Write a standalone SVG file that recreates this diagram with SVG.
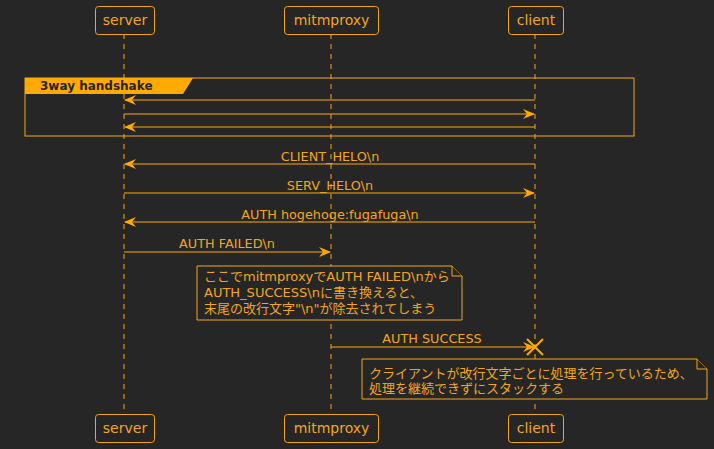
<svg xmlns="http://www.w3.org/2000/svg" width="714" height="449" viewBox="0 0 714 449">
<style>
text{font-family:"DejaVu Sans","Noto Sans CJK JP",sans-serif;fill:#F2A71B;}
.p{font-size:14px;text-anchor:middle;}
.m{font-size:12.8px;text-anchor:middle;}
.n{font-size:13px;}
.box{fill:#262626;stroke:#F2A71B;stroke-width:1;}
.life{stroke:#F2A71B;stroke-width:1;stroke-dasharray:5,5;}
.msg{stroke:#FFAA00;stroke-width:1;fill:none;}
</style>
<defs>
<marker id="ah" viewBox="0 0 12 10" refX="11" refY="5" markerWidth="12" markerHeight="10" markerUnits="userSpaceOnUse" orient="auto">
<path d="M0,0 L12,5 L0,10 L4,5 Z" fill="#FFAA00"/>
</marker>
</defs>
<rect width="714" height="449" fill="#262626"/>
<g id="lifelines">
<line class="life" x1="124" y1="34" x2="124" y2="415"/>
<line class="life" x1="331" y1="34" x2="331" y2="415"/>
<line class="life" x1="535" y1="34" x2="535" y2="415"/>
</g>
<g id="group-3way">
<rect x="25" y="78" width="609" height="58" fill="none" stroke="#F2A71B"/>
<path d="M25,78 L193,78 L183,94 L25,94 Z" fill="#FFAA00"/>
<text x="40" y="90" style="font-size:12px;font-weight:bold;fill:#262626">3way handshake</text>
</g>
<g id="connectors">
<line class="msg" x1="535" y1="100" x2="125" y2="100" marker-end="url(#ah)"/>
<line class="msg" x1="124" y1="114" x2="534" y2="114" marker-end="url(#ah)"/>
<line class="msg" x1="535" y1="127" x2="125" y2="127" marker-end="url(#ah)"/>
<line class="msg" x1="535" y1="164" x2="125" y2="164" marker-end="url(#ah)"/>
<text class="m" x="330" y="161">CLIENT_HELO\n</text>
<line class="msg" x1="124" y1="193" x2="534" y2="193" marker-end="url(#ah)"/>
<text class="m" x="330" y="190">SERV_HELO\n</text>
<line class="msg" x1="535" y1="222" x2="125" y2="222" marker-end="url(#ah)"/>
<text class="m" x="330" y="219">AUTH hogehoge:fugafuga\n</text>
<line class="msg" x1="124" y1="252" x2="330" y2="252" marker-end="url(#ah)"/>
<text class="m" x="227" y="248">AUTH FAILED\n</text>
<line class="msg" x1="331" y1="347" x2="534" y2="347" marker-end="url(#ah)"/>
<text class="m" x="432" y="343">AUTH SUCCESS</text>
<path d="M527,339 L543,355 M543,339 L527,355" stroke="#FFAA00" stroke-width="2"/>
</g>
<g id="note1">
<path class="box" d="M197,266 L452,266 L462,276 L462,320 L197,320 Z"/>
<path class="box" d="M452,266 L452,276 L462,276" fill="none"/>
<text class="n" x="204" y="281">ここでmitmproxyでAUTH FAILED\nから</text>
<text class="n" x="204" y="297">AUTH_SUCCESS\nに書き換えると、</text>
<text class="n" x="204" y="313">末尾の改行文字"\n"が除去されてしまう</text>
</g>
<g id="note2">
<path class="box" d="M362,359 L697,359 L707,369 L707,399 L362,399 Z"/>
<path class="box" d="M697,359 L697,369 L707,369" fill="none"/>
<text class="n" x="369" y="378">クライアントが改行文字ごとに処理を行っているため、</text>
<text class="n" x="369" y="393">処理を継続できずにスタックする</text>
</g>
<g id="server">
<rect class="box" x="95.5" y="6.5" width="59" height="28" rx="3"/>
<text class="p" x="125" y="25">server</text>
<rect class="box" x="95.5" y="414.5" width="59" height="28" rx="3"/>
<text class="p" x="125" y="433">server</text>
</g>
<g id="mitmproxy">
<rect class="box" x="284.5" y="6.5" width="94" height="28" rx="3"/>
<text class="p" x="331.5" y="25">mitmproxy</text>
<rect class="box" x="284.5" y="414.5" width="94" height="28" rx="3"/>
<text class="p" x="331.5" y="433">mitmproxy</text>
</g>
<g id="client">
<rect class="box" x="508.5" y="6.5" width="55" height="28" rx="3"/>
<text class="p" x="536" y="25">client</text>
<rect class="box" x="508.5" y="414.5" width="55" height="28" rx="3"/>
<text class="p" x="536" y="433">client</text>
</g>
</svg>
